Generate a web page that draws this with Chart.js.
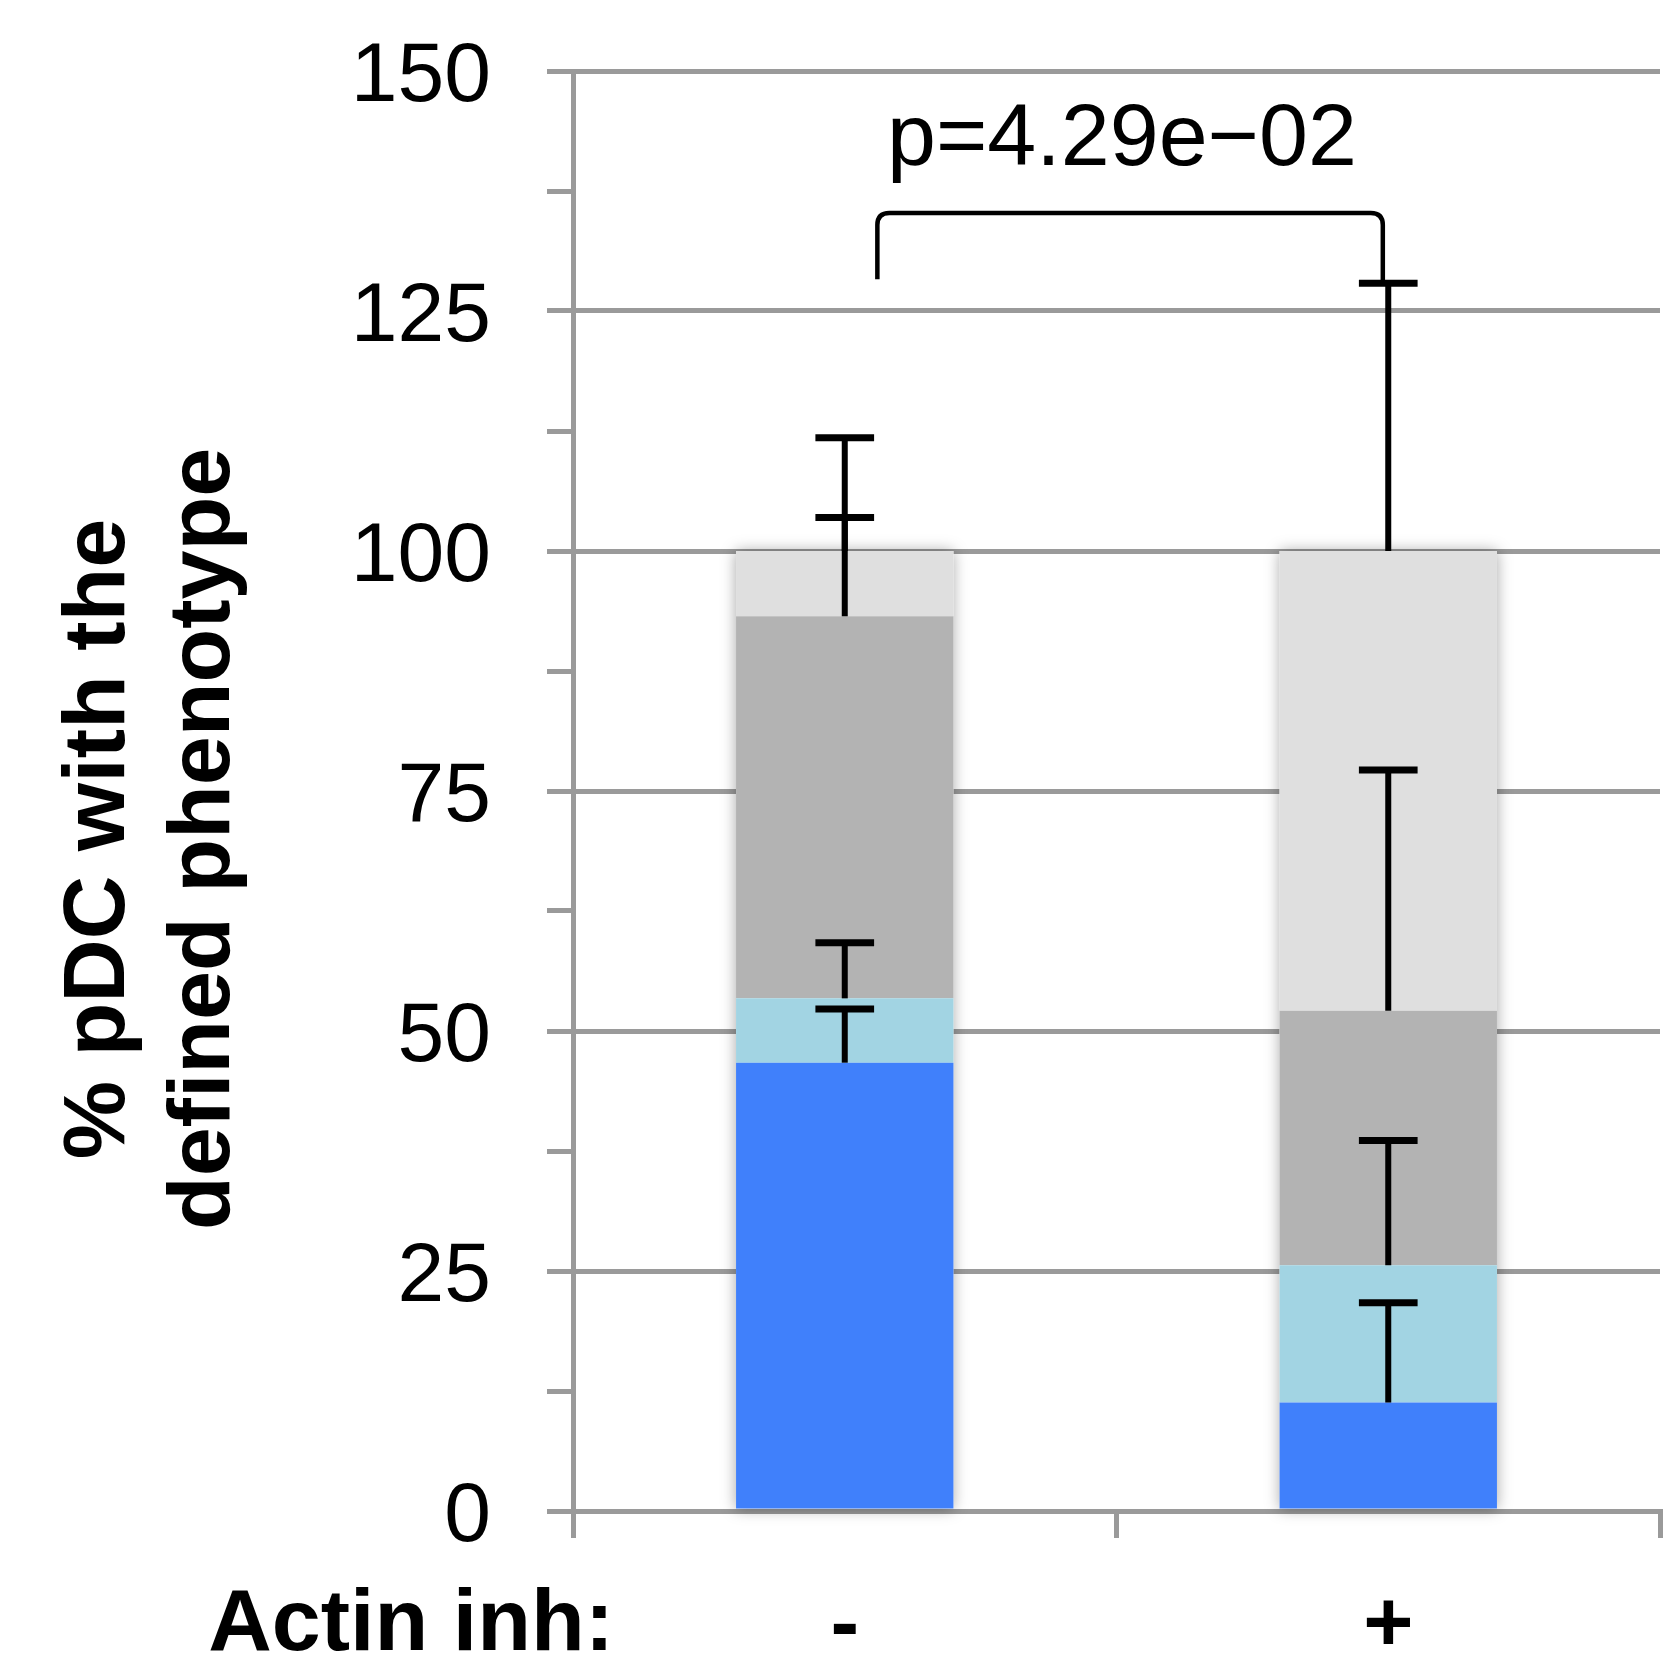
<!DOCTYPE html>
<html>
<head>
<meta charset="utf-8">
<script src="https://cdn.jsdelivr.net/npm/chart.js@4.4.1/dist/chart.umd.min.js"></script>
<style>
  html, body { margin: 0; padding: 0; background: #fff; }
</style>
</head>
<body>
<canvas id="chart" width="1671" height="1674"></canvas>
<script>
const categories = ['-', '+'];

// stacked segments, bottom to top (% of pDC)
const valBlue = [46.7, 11.3];
const valLightBlue = [6.7, 14.3];
const valGray = [39.8, 26.5];
const valLightGray = [6.8, 47.9];

// upper error of each segment
const errBlue = [5.6, 10.4];
const errLightBlue = [5.8, 13.0];
const errGray = [10.3, 25.1];
const errLightGray = [11.8, 27.9];

const yLabelTicks = [0, 25, 50, 75, 100, 125, 150];
const yTitle = ['% pDC with the', 'defined phenotype'];
const xTitle = 'Actin inh:';

// significance bracket between the two bars
const pLabel = 'p=4.29e\u221202';
const pLabelAt = [0.51, 140.2];
const bracketX = [0.06, 0.99];
const bracketEnds = [128.3, 128.0];
const bracketTop = 135.2;

const FONT = "'Liberation Sans', Arial, sans-serif";
const GRID = '#9a9a9a';

const barShadow = {
  id: 'barShadow',
  beforeDatasetsDraw(chart) {
    const ctx = chart.ctx;
    const n = chart.data.datasets.length;
    const bottom = chart.getDatasetMeta(0);
    const top = chart.getDatasetMeta(n - 1);
    ctx.save();
    ctx.shadowColor = 'rgba(0,0,0,0.35)';
    ctx.shadowBlur = 14;
    ctx.fillStyle = '#fff';
    top.data.forEach((bar, i) => {
      const base = bottom.data[i].base;
      ctx.fillRect(bar.x - bar.width / 2, bar.y, bar.width, base - bar.y);
    });
    ctx.restore();
  },
};

const errorBars = {
  id: 'errorBars',
  afterDatasetsDraw(chart) {
    const ctx = chart.ctx;
    const y = chart.scales.y;
    const x = chart.scales.x;
    ctx.save();
    ctx.strokeStyle = '#000';
    chart.data.datasets.forEach((ds, di) => {
      const meta = chart.getDatasetMeta(di);
      meta.data.forEach((bar, i) => {
        let cum = 0;
        for (let k = 0; k <= di; k++) cum += chart.data.datasets[k].data[i];
        const yEnd = y.getPixelForValue(cum + ds.errors[i]);
        const half = bar.width * 0.135;
        ctx.lineWidth = 6;
        ctx.beginPath();
        ctx.moveTo(bar.x, bar.y);
        ctx.lineTo(bar.x, yEnd);
        ctx.stroke();
        ctx.lineWidth = 7;
        ctx.beginPath();
        ctx.moveTo(bar.x - half, yEnd);
        ctx.lineTo(bar.x + half, yEnd);
        ctx.stroke();
      });
    });

    // bracket + p value
    const x0 = x.getPixelForValue(bracketX[0]);
    const x1 = x.getPixelForValue(bracketX[1]);
    const yt = y.getPixelForValue(bracketTop);
    const y0 = y.getPixelForValue(bracketEnds[0]);
    const y1 = y.getPixelForValue(bracketEnds[1]);
    const r = 12;
    ctx.lineWidth = 4.5;
    ctx.beginPath();
    ctx.moveTo(x0, y0);
    ctx.lineTo(x0, yt + r);
    ctx.quadraticCurveTo(x0, yt, x0 + r, yt);
    ctx.lineTo(x1 - r, yt);
    ctx.quadraticCurveTo(x1, yt, x1, yt + r);
    ctx.lineTo(x1, y1);
    ctx.stroke();

    ctx.fillStyle = '#000';
    ctx.font = '88px ' + FONT;
    ctx.textAlign = 'center';
    ctx.textBaseline = 'alphabetic';
    ctx.fillText(pLabel, x.getPixelForValue(pLabelAt[0]), y.getPixelForValue(pLabelAt[1]));
    ctx.restore();
  },
};

const axisTitles = {
  id: 'axisTitles',
  afterDraw(chart) {
    const ctx = chart.ctx;
    const area = chart.chartArea;
    const xs = chart.scales.x;
    ctx.save();
    ctx.fillStyle = '#000';
    ctx.font = 'bold 88px ' + FONT;
    ctx.textAlign = 'center';
    ctx.textBaseline = 'alphabetic';
    const cy = (area.top + area.bottom) / 2 + 48;
    yTitle.forEach((line, k) => {
      ctx.save();
      ctx.translate(124 + k * 105, cy);
      ctx.rotate(-Math.PI / 2);
      ctx.fillText(line, 0, 0);
      ctx.restore();
    });
    ctx.font = 'bold 88px ' + FONT;
    ctx.textAlign = 'right';
    ctx.fillText(xTitle, area.left + 41, xs.top + 139);
    ctx.restore();
  },
};

new Chart(document.getElementById('chart'), {
  type: 'bar',
  data: {
    labels: categories,
    datasets: [
      { label: 'blue', data: valBlue, errors: errBlue, backgroundColor: '#4080fb' },
      { label: 'light blue', data: valLightBlue, errors: errLightBlue, backgroundColor: '#a2d4e3' },
      { label: 'gray', data: valGray, errors: errGray, backgroundColor: '#b3b3b3' },
      { label: 'light gray', data: valLightGray, errors: errLightGray, backgroundColor: '#dfdfdf' },
    ],
  },
  options: {
    responsive: false,
    animation: false,
    layout: { padding: { left: 0, right: 11, top: 71, bottom: 0 } },
    datasets: { bar: { categoryPercentage: 1, barPercentage: 0.4, borderWidth: 0 } },
    plugins: { legend: { display: false }, tooltip: { enabled: false } },
    scales: {
      x: {
        stacked: true,
        offset: true,
        afterFit(scale) {
          scale.height = 163;
          scale.paddingLeft = 0;
          scale.paddingRight = 0;
        },
        grid: {
          offset: true,
          drawOnChartArea: false,
          drawTicks: true,
          tickLength: 27,
          color: GRID,
          lineWidth: 5,
        },
        border: { display: true, color: GRID, width: 5 },
        ticks: {
          color: '#000',
          padding: 38,
          font: { family: FONT, size: 86, weight: 'bold', lineHeight: 1.2 },
        },
      },
      y: {
        stacked: true,
        min: 0,
        max: 150,
        afterFit(scale) {
          scale.width = 573;
          scale.paddingTop = 0;
          scale.paddingBottom = 0;
        },
        grid: {
          color: (c) => (yLabelTicks.includes(c.tick.value) ? GRID : 'rgba(0,0,0,0)'),
          tickColor: GRID,
          lineWidth: 5,
          tickLength: 26,
        },
        border: { display: true, color: GRID, width: 5 },
        ticks: {
          stepSize: 12.5,
          autoSkip: false,
          color: '#000',
          padding: 56,
          labelOffset: 7,
          font: { family: FONT, size: 84 },
          callback: (v) => (yLabelTicks.includes(v) ? String(v) : ''),
        },
      },
    },
  },
  plugins: [barShadow, errorBars, axisTitles],
});
</script>
</body>
</html>
